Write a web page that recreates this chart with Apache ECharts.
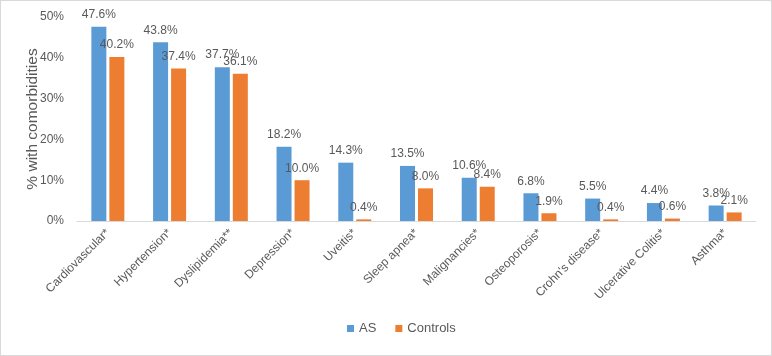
<!DOCTYPE html>
<html>
<head>
<meta charset="utf-8">
<script src="https://cdn.jsdelivr.net/npm/echarts@6/dist/echarts.min.js"></script>
<style>
html,body{margin:0;padding:0;background:#fff;}
#c{width:772px;height:356px;box-sizing:border-box;border:1px solid #d9d9d9;}
</style>
</head>
<body>
<div id="c"></div>
<script>
const categories = ["Cardiovascular*","Hypertension*","Dyslipidemia**","Depression*","Uveitis*","Sleep apnea*","Malignancies*","Osteoporosis*","Crohn's disease*","Ulcerative Colitis*","Asthma*"];
const asValues = [47.6, 43.8, 37.7, 18.2, 14.3, 13.5, 10.6, 6.8, 5.5, 4.4, 3.8];
const controlValues = [40.2, 37.4, 36.1, 10.0, 0.4, 8.0, 8.4, 1.9, 0.4, 0.6, 2.1];
const seriesNames = ["AS", "Controls"];
const yTicks = [0, 10, 20, 30, 40, 50];

const chart = echarts.init(document.getElementById('c'), null, {renderer:'canvas'});
const txt = '#595959';
const font = 'Liberation Sans, Arial, sans-serif';
const lbl = {show:true, position:'top', distance:6, color:txt, fontSize:12, fontFamily:font,
  formatter: p => p.value.toFixed(1) + '%'};
chart.setOption({
  animation:false,
  textStyle:{fontFamily:font},
  grid:{left:76, right:15, top:16, bottom:134},
  legend:{bottom:15, left:341, itemWidth:7, itemHeight:7, itemGap:19, icon:'rect', itemTextGap:5,
    textStyle:{color:txt, fontSize:13, fontFamily:font}, data:seriesNames},
  xAxis:{type:'category', data:categories,
    axisLine:{lineStyle:{color:'#d9d9d9'}}, axisTick:{show:false},
    axisLabel:{rotate:45, color:txt, fontSize:12, fontFamily:font, interval:0, margin:10}},
  yAxis:{type:'value', min:yTicks[0], max:yTicks[yTicks.length-1], interval:10,
    name:'% with comorbidities', nameLocation:'middle', nameGap:44, nameMoveOverlap:false,
    nameTextStyle:{color:txt, fontSize:15.5, fontFamily:font, verticalAlign:'middle'},
    axisLine:{show:false}, axisTick:{show:false}, splitLine:{show:false},
    axisLabel:{color:txt, fontSize:12, fontFamily:font, margin:13, formatter: v => v + '%'}},
  series:[
    {name:seriesNames[0], type:'bar', data:asValues, barWidth:15, barGap:'20%',
      itemStyle:{color:'#5B9BD5'}, label:lbl},
    {name:seriesNames[1], type:'bar', data:controlValues, barWidth:15,
      itemStyle:{color:'#ED7D31'}, label:lbl}
  ]
});
</script>
</body>
</html>
